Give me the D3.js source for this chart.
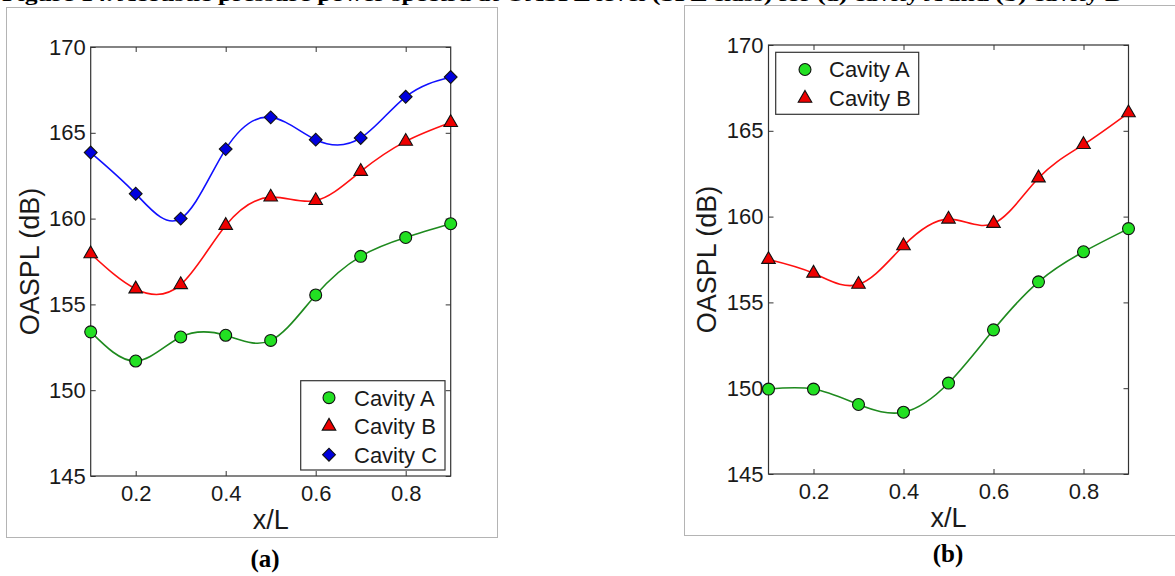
<!DOCTYPE html>
<html>
<head>
<meta charset="utf-8">
<script src="https://cdn.jsdelivr.net/npm/d3@7"></script>
<style>
  html, body { margin: 0; padding: 0; background: #fff; }
  svg { display: block; }
  text { font-family: "Liberation Sans", Arial, sans-serif; }
</style>
</head>
<body>
<svg id="chart" width="1175" height="576"></svg>
<script>
// ---------- data ----------
const xValues = [0.1, 0.2, 0.3, 0.4, 0.5, 0.6, 0.7, 0.8, 0.9];
const xTicks = [0.2, 0.4, 0.6, 0.8];
const yTicks = [145, 150, 155, 160, 165, 170];

// panel (a)
const aCavityA = [153.4, 151.7, 153.1, 153.2, 152.9, 155.55, 157.8, 158.9, 159.7];
const aCavityB = [157.95, 155.9, 156.15, 159.6, 161.25, 161.05, 162.75, 164.5, 165.6];
const aCavityC = [163.85, 161.45, 160.0, 164.05, 165.9, 164.6, 164.7, 167.1, 168.25];

// panel (b)
const bCavityA = [149.95, 149.95, 149.05, 148.6, 150.3, 153.4, 156.2, 157.95, 159.3];
const bCavityB = [157.5, 156.7, 156.05, 158.3, 159.85, 159.6, 162.25, 164.2, 166.05];

const seriesNames = ["Cavity A", "Cavity B", "Cavity C"];
const panelLabels = ["(a)", "(b)"];
const captionText = "Figure 14. Acoustic pressure power spectra at OASPL level (SPL class) for (a) cavity A and (b) cavity B";

// ---------- styles ----------
const styles = {
  "Cavity A": { line: "#1e8a1e", fill: "#22e022", symbol: d3.symbolCircle, size: 112, rot: 0 },
  "Cavity B": { line: "#ff1010", fill: "#ee0000", symbol: d3.symbolTriangle, size: 80, rot: 0 },
  "Cavity C": { line: "#1010ff", fill: "#0000dd", symbol: d3.symbolSquare, size: 82, rot: 45 }
};

const svg = d3.select("#chart");

// caption (cut off at top of image, as in the reference)
svg.append("text")
  .attr("x", 2).attr("y", 1)
  .attr("textLength", 1120)
  .attr("lengthAdjust", "spacingAndGlyphs")
  .style("font-family", "'Liberation Serif', 'Times New Roman', serif")
  .style("font-weight", "bold")
  .style("font-size", "18px")
  .attr("fill", "#000")
  .text(captionText);

const panels = [
  {
    frame: { x: 6.5, y: 7.5, w: 491, h: 530 },
    plot: { left: 90.7, right: 450.7, top: 47, bottom: 476 },
    series: [["Cavity A", aCavityA], ["Cavity B", aCavityB], ["Cavity C", aCavityC]],
    legend: { x: 300.7, y: 380.7, w: 144.3, h: 89.3, markerX: 329, textX: 354, rows: [397.7, 426.2, 454.7] },
    yLabelX: 29,
    label: { x: 265, y: 567 }
  },
  {
    frame: { x: 684.5, y: 5.5, w: 520, h: 530 },
    plot: { left: 768.5, right: 1128.5, top: 45, bottom: 474 },
    series: [["Cavity A", bCavityA], ["Cavity B", bCavityB]],
    legend: { x: 775.7, y: 52.3, w: 143, h: 62, markerX: 805, textX: 829, rows: [69.5, 98.3] },
    yLabelX: 706.5,
    label: { x: 948, y: 562 }
  }
];

function marker(sel, st) {
  return sel.attr("d", d3.symbol().type(st.symbol).size(st.size))
    .attr("fill", st.fill)
    .attr("stroke", "#111")
    .attr("stroke-width", 1.1);
}

panels.forEach((p, pi) => {
  const g = svg.append("g");

  g.append("rect")
    .attr("x", p.frame.x).attr("y", p.frame.y)
    .attr("width", p.frame.w).attr("height", p.frame.h)
    .attr("fill", "none").attr("stroke", "#b4b4b4").attr("stroke-width", 1);

  const x = d3.scaleLinear().domain([0.1, 0.9]).range([p.plot.left, p.plot.right]);
  const y = d3.scaleLinear().domain([145, 170]).range([p.plot.bottom, p.plot.top]);

  const tickFont = g2 => {
    g2.selectAll("text").style("font-size", "22px").attr("fill", "#1a1a1a");
    g2.selectAll("line").attr("stroke", "#333").attr("stroke-width", 1);
    g2.select(".domain").remove();
  };

  g.append("g")
    .attr("transform", `translate(0,${p.plot.bottom})`)
    .call(d3.axisBottom(x).tickValues(xTicks).tickFormat(d3.format(".1f"))
      .tickSizeInner(-5).tickSizeOuter(0).tickPadding(9))
    .call(tickFont);
  g.append("g")
    .attr("transform", `translate(0,${p.plot.top})`)
    .call(d3.axisTop(x).tickValues(xTicks).tickFormat("")
      .tickSizeInner(-5).tickSizeOuter(0))
    .call(tickFont);
  g.append("g")
    .attr("transform", `translate(${p.plot.left},0)`)
    .call(d3.axisLeft(y).tickValues(yTicks).tickFormat(d3.format("d"))
      .tickSizeInner(-5).tickSizeOuter(0).tickPadding(5))
    .call(tickFont);
  g.append("g")
    .attr("transform", `translate(${p.plot.right},0)`)
    .call(d3.axisRight(y).tickValues(yTicks).tickFormat("")
      .tickSizeInner(-5).tickSizeOuter(0))
    .call(tickFont);

  g.append("rect")
    .attr("x", p.plot.left).attr("y", p.plot.top)
    .attr("width", p.plot.right - p.plot.left).attr("height", p.plot.bottom - p.plot.top)
    .attr("fill", "none").attr("stroke", "#333").attr("stroke-width", 1.2);

  const line = d3.line()
    .x((d, i) => x(xValues[i]))
    .y(d => y(d))
    .curve(d3.curveNatural);

  p.series.forEach(([name, vals]) => {
    g.append("path")
      .datum(vals)
      .attr("d", line)
      .attr("fill", "none")
      .attr("stroke", styles[name].line)
      .attr("stroke-width", 1.6);
  });
  p.series.forEach(([name, vals]) => {
    const st = styles[name];
    g.selectAll(null).data(vals).enter().append("path")
      .attr("transform", (d, i) => `translate(${x(xValues[i])},${y(d)}) rotate(${st.rot})`)
      .call(marker, st);
  });

  const L = p.legend;
  g.append("rect")
    .attr("x", L.x).attr("y", L.y).attr("width", L.w).attr("height", L.h)
    .attr("fill", "#fff").attr("stroke", "#333").attr("stroke-width", 1.2);
  p.series.forEach(([name], i) => {
    const st = styles[name];
    g.append("path")
      .attr("transform", `translate(${L.markerX},${L.rows[i]}) rotate(${st.rot})`)
      .call(marker, st);
    g.append("text")
      .attr("x", L.textX).attr("y", L.rows[i])
      .attr("dy", "0.36em")
      .style("font-size", "22px").attr("fill", "#1a1a1a")
      .text(name);
  });

  g.append("text")
    .attr("transform", `translate(${p.yLabelX},${(p.plot.top + p.plot.bottom) / 2}) rotate(-90)`)
    .attr("text-anchor", "middle").attr("dy", "0.36em")
    .style("font-size", "27px").attr("fill", "#1a1a1a")
    .text("OASPL (dB)");
  g.append("text")
    .attr("x", (p.plot.left + p.plot.right) / 2).attr("y", p.plot.bottom + 53)
    .attr("text-anchor", "middle")
    .style("font-size", "27px").attr("fill", "#1a1a1a")
    .text("x/L");

  g.append("text")
    .attr("x", p.label.x).attr("y", p.label.y)
    .attr("text-anchor", "middle")
    .style("font-family", "'Liberation Serif', 'Times New Roman', serif")
    .style("font-weight", "bold").style("font-size", "25px")
    .attr("fill", "#000")
    .text(panelLabels[pi]);
});
</script>
</body>
</html>
